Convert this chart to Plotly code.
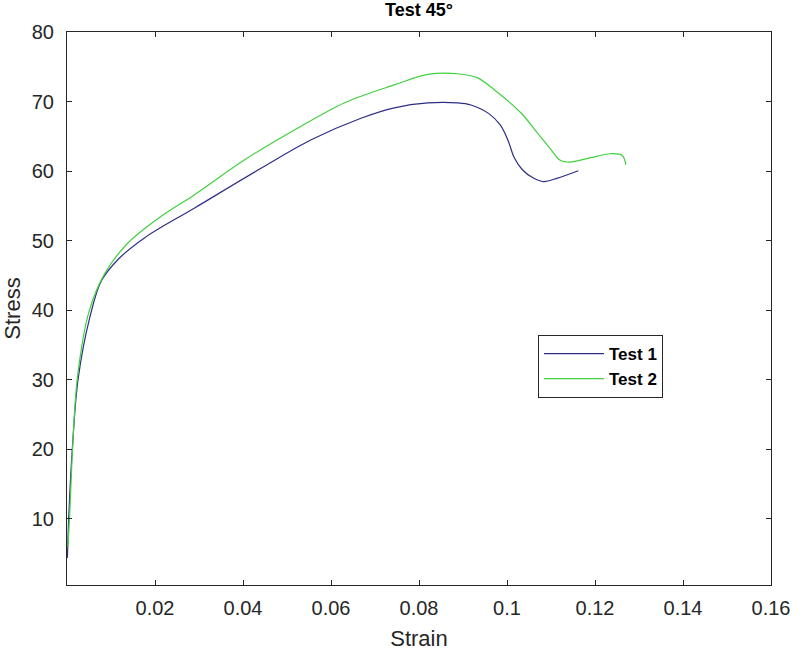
import plotly.graph_objs as go

# Test 1 (blue)
strain_1 = [0.0001, 0.0004, 0.0012, 0.0025, 0.0052, 0.0078, 0.0116, 0.0176,
            0.0290, 0.0441, 0.0555, 0.0668, 0.0744, 0.0820, 0.0888, 0.0918,
            0.0958, 0.0985, 0.1003, 0.1016, 0.1035, 0.1060, 0.1083, 0.1115,
            0.1162]
stress_1 = [4.4, 10.3, 20.0, 30.0, 39.0, 44.2, 47.3, 50.4,
            54.7, 60.4, 64.5, 67.6, 69.1, 69.8, 69.8, 69.5,
            68.3, 66.6, 64.3, 62.0, 60.2, 59.0, 58.5, 59.0,
            60.05]

# Test 2 (green)
strain_2 = [0.0002, 0.0006, 0.0013, 0.0024, 0.0050, 0.0086, 0.0139, 0.0214,
            0.0290, 0.0403, 0.0517, 0.0630, 0.0744, 0.0820, 0.0888, 0.0933,
            0.0971, 0.1032, 0.1069, 0.1100, 0.1120, 0.1143, 0.1188, 0.1236,
            0.1262, 0.1270]
stress_2 = [6.0, 10.5, 20.5, 30.5, 39.8, 45.3, 49.7, 53.5,
            56.6, 61.6, 65.9, 69.8, 72.4, 73.9, 74.0, 73.4,
            71.7, 68.35, 65.5, 63.1, 61.6, 61.3, 61.9, 62.5,
            62.25, 60.9]

x_ticks = [0.02, 0.04, 0.06, 0.08, 0.1, 0.12, 0.14, 0.16]
x_tick_labels = ['0.02', '0.04', '0.06', '0.08', '0.1', '0.12', '0.14', '0.16']
y_ticks = [10, 20, 30, 40, 50, 60, 70, 80]

FONT = 'Liberation Sans, Arial, sans-serif'
AXIS_COLOR = '#262626'


def make_plot():
    traces = [
        go.Scatter(
            x=strain_1, y=stress_1, name='<b>Test 1</b>', mode='lines',
            line=dict(color='#2e2e85', width=1.2, shape='spline', smoothing=1.0)
        ),
        go.Scatter(
            x=strain_2, y=stress_2, name='<b>Test 2</b>', mode='lines',
            line=dict(color='#3fd13f', width=1.2, shape='spline', smoothing=1.0)
        ),
    ]

    axis_common = dict(
        showgrid=False,
        zeroline=False,
        showline=True,
        linecolor=AXIS_COLOR,
        linewidth=1,
        mirror='ticks',
        ticks='inside',
        ticklen=5,
        tickcolor=AXIS_COLOR,
        tickfont=dict(family=FONT, size=20, color=AXIS_COLOR),
        automargin=False,
    )

    layout = go.Layout(
        width=800,
        height=655,
        paper_bgcolor='white',
        plot_bgcolor='white',
        margin=dict(t=32, b=70, l=67, r=29),
        title=dict(
            text='<b>Test 45°</b>',
            x=0.5, xanchor='center', xref='paper',
            y=1 - 10 / 655, yanchor='middle',
            font=dict(family=FONT, size=18, color='black')
        ),
        xaxis=dict(
            title=dict(text='Strain', font=dict(family=FONT, size=22, color=AXIS_COLOR), standoff=12),
            range=[0, 0.16],
            tickmode='array',
            tickvals=x_ticks,
            ticktext=x_tick_labels,
            ticklabelstandoff=5,
            **axis_common
        ),
        yaxis=dict(
            title=dict(text='Stress', font=dict(family=FONT, size=22, color=AXIS_COLOR), standoff=10),
            range=[0.5, 80],
            tickmode='array',
            tickvals=y_ticks,
            ticklabelstandoff=8,
            **axis_common
        ),
        legend=dict(
            x=0.669, y=0.452, xanchor='left', yanchor='top',
            bgcolor='white',
            bordercolor=AXIS_COLOR,
            borderwidth=1,
            font=dict(family=FONT, size=17, color='black'),
            itemwidth=60,
            tracegroupgap=0,
        ),
        showlegend=True,
    )

    fig = go.Figure(data=traces, layout=layout)
    # drop the default 8px body margin so the figure sits at the window corner
    fig.write_html('out.html', config={'displayModeBar': False},
                   post_script="document.body.style.margin='0px';")


if __name__ == '__main__':
    make_plot()
